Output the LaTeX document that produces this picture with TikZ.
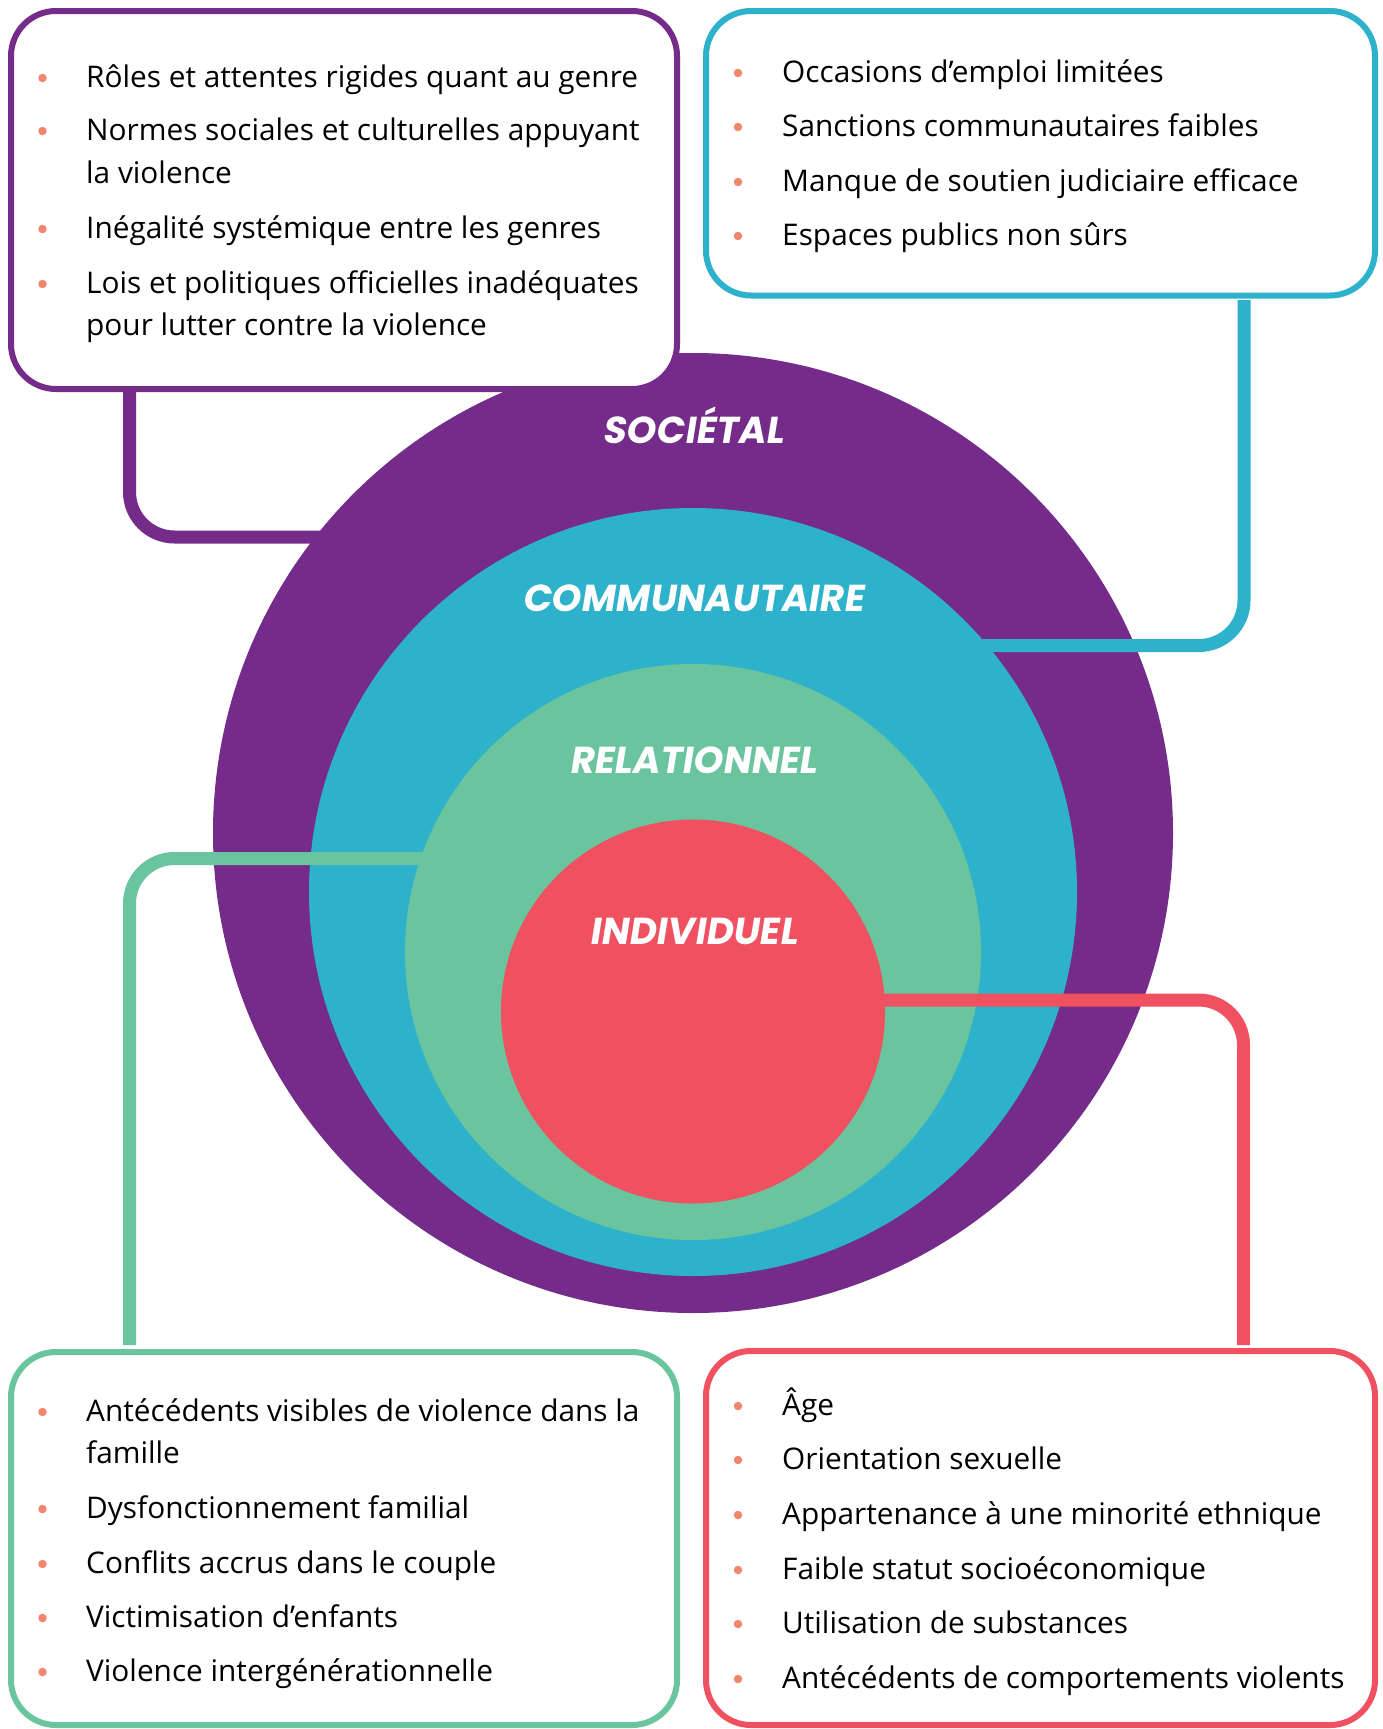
\documentclass[tikz,border=0pt]{standalone}
\usepackage{fontspec}
\setmainfont{Open Sans}
\newfontfamily\labfont{Poppins}[UprightFont=* Bold, FakeSlant=0.16]
\definecolor{cP}{HTML}{752B89}
\definecolor{cC}{HTML}{2EB2CB}
\definecolor{cG}{HTML}{6AC49E}
\definecolor{cR}{HTML}{EF5161}
\definecolor{cB}{HTML}{F0866C}
\begin{document}
\begin{tikzpicture}[x=1pt, y=-1pt,
  box/.style={rectangle, rounded corners=45pt, line width=6pt, fill=white, inner sep=0pt, outer sep=0pt},
  conn/.style={line width=13pt, rounded corners=45pt},
  ring/.style={circle, inner sep=0pt, outer sep=0pt},
  lab/.style={text=white, font=\labfont\fontsize{37.5}{40}\selectfont, anchor=base, inner sep=0pt},
  itm/.style={anchor=base west, inner sep=0pt, font=\fontsize{29.8}{34}\selectfont, text=black},
  bul/.style={circle, fill=cB, minimum size=8.5pt, inner sep=0pt}]
\useasboundingbox (0,0) rectangle (1382,1729);
\fill[white] (0,0) rectangle (1382,1729);

% purple connector and circle
\coordinate (pc0) at (129.5,380);
\coordinate (pc1) at (693,537);
\draw[conn, draw=cP] (pc0) |- (pc1);
\node[ring, fill=cP, minimum size=960pt] (pcirc) at (693,833) {};

% cyan connector and circle
\coordinate (cc0) at (1244,300);
\coordinate (cc1) at (693,645.5);
\draw[conn, draw=cC] (cc0) |- (cc1);
\node[ring, fill=cC, minimum size=768pt] (ccirc) at (693,892) {};

% green connector and circle
\coordinate (gc0) at (129.5,1345);
\coordinate (gc1) at (693,858.5);
\draw[conn, draw=cG] (gc0) |- (gc1);
\node[ring, fill=cG, minimum size=576pt] (gcirc) at (693,952) {};

% red connector and circle
\coordinate (rc0) at (1243.5,1345);
\coordinate (rc1) at (693,1000);
\draw[conn, draw=cR] (rc0) |- (rc1);
\node[ring, fill=cR, minimum size=384pt] (rcirc) at (693,1011.5) {};

% labels
\node[lab] (lP) at (693,443) {SOCIÉTAL};
\node[lab] (lC) at (693,611) {COMMUNAUTAIRE};
\node[lab] (lG) at (693,773) {RELATIONNEL};
\node[lab] (lR) at (693,944) {INDIVIDUEL};

% boxes
\node[box, draw=cP, minimum width=666pt, minimum height=378pt] (pbox) at (344,200) {};
\node[box, draw=cC, minimum width=669pt, minimum height=284.5pt] (cbox) at (1040.5,153.25) {};
\node[box, draw=cG, minimum width=666pt, minimum height=373pt] (gbox) at (344,1538.5) {};
\node[box, draw=cR, minimum width=669pt, minimum height=374pt] (rbox) at (1040.5,1538) {};

% purple box items
\foreach \n/\y in {1/87,2/140,3/238,4/293} \node[bul] (pb\n) at (42.5,\y-9) {};
\node[itm] (pt1) at (86,87) {Rôles et attentes rigides quant au genre};
\node[itm] (pt2) at (86,140) {Normes sociales et culturelles appuyant};
\node[itm] (pt2b) at (86,183) {la violence};
\node[itm] (pt3) at (86,238) {Inégalité systémique entre les genres};
\node[itm] (pt4) at (86,293) {Lois et politiques officielles inadéquates};
\node[itm] (pt4b) at (86,335) {pour lutter contre la violence};

% cyan box items
\foreach \n/\y in {1/82,2/136,3/191,4/245} \node[bul] (cb\n) at (738,\y-9) {};
\node[itm] (ct1) at (782,82) {Occasions d’emploi limitées};
\node[itm] (ct2) at (782,136) {Sanctions communautaires faibles};
\node[itm] (ct3) at (782,191) {Manque de soutien judiciaire efficace};
\node[itm] (ct4) at (782,245) {Espaces publics non sûrs};

% green box items
\foreach \n/\y in {1/1421,2/1518,3/1573,4/1627,5/1681} \node[bul] (gb\n) at (42.5,\y-9) {};
\node[itm] (gt1) at (86,1421) {Antécédents visibles de violence dans la};
\node[itm] (gt1b) at (86,1463) {famille};
\node[itm] (gt2) at (86,1518) {Dysfonctionnement familial};
\node[itm] (gt3) at (86,1573) {Conflits accrus dans le couple};
\node[itm] (gt4) at (86,1627) {Victimisation d’enfants};
\node[itm] (gt5) at (86,1681) {Violence intergénérationnelle};

% red box items
\foreach \n/\y in {1/1415,2/1469,3/1524,4/1579,5/1633,6/1688} \node[bul] (rb\n) at (738,\y-9) {};
\node[itm] (rt1) at (782,1415) {Âge};
\node[itm] (rt2) at (782,1469) {Orientation sexuelle};
\node[itm] (rt3) at (782,1524) {Appartenance à une minorité ethnique};
\node[itm] (rt4) at (782,1579) {Faible statut socioéconomique};
\node[itm] (rt5) at (782,1633) {Utilisation de substances};
\node[itm] (rt6) at (782,1688) {Antécédents de comportements violents};
\end{tikzpicture}
\end{document}
